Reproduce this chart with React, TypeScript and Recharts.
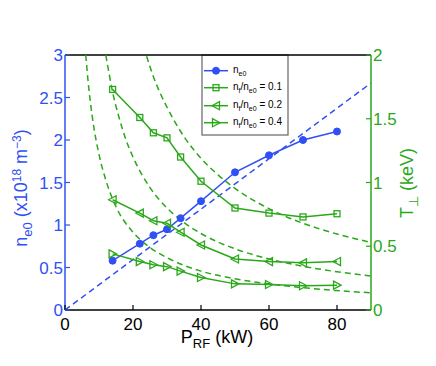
import React from "react";
import { ComposedChart, Line, XAxis, YAxis, ReferenceLine } from "recharts";

const BLUE = "#3050f5";
const GREEN = "#2aa81a";
const FONT = "'Liberation Sans', Arial, Helvetica, sans-serif";

// measured points
const pRF = [14, 22, 26, 30, 34, 40, 50, 60, 70, 80];
const ne0 = [0.58, 0.78, 0.88, 0.95, 1.08, 1.28, 1.62, 1.82, 2.0, 2.1];
const tPerp01 = [1.73, 1.51, 1.39, 1.35, 1.2, 1.01, 0.8, 0.76, 0.73, 0.755];
const tPerp02 = [0.865, 0.76, 0.7, 0.68, 0.61, 0.51, 0.4, 0.38, 0.37, 0.38];
const tPerp04 = [0.44, 0.38, 0.355, 0.34, 0.305, 0.255, 0.205, 0.2, 0.19, 0.195];

// dashed model curves
const neFitP = [0, 90];
const neFitV = [0, 2.67];
const fitAP = [6.1, 7, 8, 10, 12, 15, 20, 25, 30, 40, 50, 60, 70, 80, 90];
const fitAT = [2.0, 1.74, 1.52, 1.22, 1.02, 0.81, 0.61, 0.49, 0.41, 0.305, 0.245, 0.205, 0.175, 0.152, 0.135];
const fitBP = [12, 13, 14, 16, 18, 20, 25, 30, 35, 40, 50, 60, 70, 80, 90];
const fitBT = [2.0, 1.85, 1.71, 1.5, 1.33, 1.2, 0.96, 0.8, 0.686, 0.6, 0.48, 0.4, 0.343, 0.3, 0.267];
const fitCP = [24, 26, 28, 30, 35, 40, 45, 50, 60, 70, 80, 90];
const fitCT = [1.99, 1.83, 1.7, 1.59, 1.36, 1.19, 1.06, 0.954, 0.795, 0.68, 0.596, 0.53];

const xTicks = [0, 20, 40, 60, 80];
const leftTicks = [0, 0.5, 1, 1.5, 2, 2.5, 3];
const rightTicks = [0, 0.5, 1, 1.5, 2];

const zip = (xs: number[], ys: number[]) => xs.map((x, i) => ({ x, y: ys[i] }));

const dNe = zip(pRF, ne0);
const d01 = zip(pRF, tPerp01);
const d02 = zip(pRF, tPerp02);
const d04 = zip(pRF, tPerp04);
const dNeFit = zip(neFitP, neFitV);
const dA = zip(fitAP, fitAT);
const dB = zip(fitBP, fitBT);
const dC = zip(fitCP, fitCT);

const Circle = ({ cx, cy }: any) => <circle cx={cx} cy={cy} r={3.5} fill={BLUE} stroke={BLUE} />;
const Square = ({ cx, cy }: any) => (
  <rect x={cx - 3} y={cy - 3} width={6} height={6} fill="none" stroke={GREEN} strokeWidth={1.3} />
);
const TriLeft = ({ cx, cy }: any) => (
  <path d={`M${cx - 4},${cy} L${cx + 3.5},${cy - 4} L${cx + 3.5},${cy + 4} Z`} fill="none" stroke={GREEN} strokeWidth={1.3} />
);
const TriRight = ({ cx, cy }: any) => (
  <path d={`M${cx + 4},${cy} L${cx - 3.5},${cy - 4} L${cx - 3.5},${cy + 4} Z`} fill="none" stroke={GREEN} strokeWidth={1.3} />
);

const LeftTick = ({ x, y, payload }: any) => (
  <g>
    <line x1={x} y1={y} x2={x + 5} y2={y} stroke={BLUE} strokeWidth={1.2} />
    <text x={x - 2} y={y + 6} textAnchor="end" fill={BLUE} fontSize={17} fontFamily={FONT}>
      {String(payload.value)}
    </text>
  </g>
);
const RightTick = ({ x, y, payload }: any) => (
  <g>
    <line x1={x} y1={y} x2={x - 5} y2={y} stroke={GREEN} strokeWidth={1.2} />
    <text x={x + 2} y={y + 6} textAnchor="start" fill={GREEN} fontSize={17} fontFamily={FONT}>
      {String(payload.value)}
    </text>
  </g>
);
const BottomTick = ({ x, y, payload }: any) => (
  <g>
    <line x1={x} y1={y} x2={x} y2={y - 5} stroke="#000" strokeWidth={1.2} />
    <text x={x} y={y + 20} textAnchor="middle" fill="#000" fontSize={17} fontFamily={FONT}>
      {String(payload.value)}
    </text>
  </g>
);

const XLabel = () => (
  <text x={209} y={335} textAnchor="middle" fill="#000" fontSize={18} fontFamily={FONT}>
    P<tspan dy={5} fontSize={13}>RF</tspan>
    <tspan dy={-5}> (kW)</tspan>
  </text>
);
const LeftLabel = () => (
  <text x={19} y={180} transform="rotate(-90 19 180)" textAnchor="middle" fill={BLUE} fontSize={18} fontFamily={FONT}>
    n<tspan dy={5} fontSize={13}>e0</tspan>
    <tspan dy={-5}> (x10</tspan>
    <tspan dy={-6} fontSize={12}>18</tspan>
    <tspan dy={6}> m</tspan>
    <tspan dy={-6} fontSize={12}>−3</tspan>
    <tspan dy={6}>)</tspan>
  </text>
);
const RightLabel = () => (
  <text x={405} y={175} transform="rotate(-90 405 175)" textAnchor="middle" fill={GREEN} fontSize={18} fontFamily={FONT}>
    T<tspan dy={5} fontSize={13}>⊥</tspan>
    <tspan dy={-5}> (keV)</tspan>
  </text>
);

const LegendBox = () => {
  const rows = [62.7, 79.7, 97.7, 114.7];
  const lx1 = 196;
  const lx2 = 220;
  const mx = 208;
  const tx = 225;
  const fs = 10;
  const sub = 7;
  return (
    <g fontFamily={FONT}>
      <rect x={194} y={47} width={86} height={80} fill="#fff" stroke="#707070" strokeWidth={1.3} />
      <line x1={lx1} y1={rows[0]} x2={lx2} y2={rows[0]} stroke={BLUE} strokeWidth={1.5} />
      <Circle cx={mx} cy={rows[0]} />
      <text x={tx} y={rows[0] + 2} fontSize={fs} fill="#000">
        n<tspan dy={3} fontSize={sub}>e0</tspan>
      </text>
      {[
        { y: rows[1], M: Square, v: "0.1" },
        { y: rows[2], M: TriLeft, v: "0.2" },
        { y: rows[3], M: TriRight, v: "0.4" },
      ].map(({ y, M, v }) => (
        <g key={v}>
          <line x1={lx1} y1={y} x2={lx2} y2={y} stroke={GREEN} strokeWidth={1.5} />
          <M cx={mx} cy={y} />
          <text x={tx} y={y + 2} fontSize={fs} fill="#000">
            n<tspan dy={3} fontSize={sub}>f</tspan>
            <tspan dy={-3}>/n</tspan>
            <tspan dy={3} fontSize={sub}>e0</tspan>
            <tspan dy={-3}>{` = ${v}`}</tspan>
          </text>
        </g>
      ))}
    </g>
  );
};

export default function App() {
  return (
    <ComposedChart width={428} height={358} margin={{ top: 47, right: 0, bottom: 0, left: 0 }}>
      <XAxis
        type="number"
        dataKey="x"
        xAxisId="x"
        domain={[0, 90]}
        ticks={xTicks}
        allowDataOverflow
        height={56}
        tickSize={0}
        tickMargin={0}
        tickLine={false}
        axisLine={{ stroke: "#000", strokeWidth: 1.5 }}
        tick={<BottomTick />}
        label={{ content: () => <XLabel /> }}
      />
      <YAxis
        yAxisId="left"
        orientation="left"
        type="number"
        domain={[0, 3]}
        ticks={leftTicks}
        allowDataOverflow
        width={57}
        tickSize={0}
        tickMargin={0}
        tickLine={false}
        axisLine={{ stroke: BLUE, strokeWidth: 1.5 }}
        tick={<LeftTick />}
        label={{ content: () => <LeftLabel /> }}
      />
      <YAxis
        yAxisId="right"
        orientation="right"
        type="number"
        domain={[0, 2]}
        ticks={rightTicks}
        allowDataOverflow
        width={65}
        tickSize={0}
        tickMargin={0}
        tickLine={false}
        axisLine={{ stroke: GREEN, strokeWidth: 1.5 }}
        tick={<RightTick />}
        label={{ content: () => <RightLabel /> }}
      />
      <ReferenceLine xAxisId="x" yAxisId="left" y={3} stroke="#000" strokeWidth={1.5} />

      <Line data={dNeFit} xAxisId="x" yAxisId="left" dataKey="y" type="linear" stroke={BLUE} strokeWidth={1.5} strokeDasharray="6 4" dot={false} isAnimationActive={false} />
      <Line data={dA} xAxisId="x" yAxisId="right" dataKey="y" type="monotone" stroke={GREEN} strokeWidth={1.5} strokeDasharray="6 4" dot={false} isAnimationActive={false} />
      <Line data={dB} xAxisId="x" yAxisId="right" dataKey="y" type="monotone" stroke={GREEN} strokeWidth={1.5} strokeDasharray="6 4" dot={false} isAnimationActive={false} />
      <Line data={dC} xAxisId="x" yAxisId="right" dataKey="y" type="monotone" stroke={GREEN} strokeWidth={1.5} strokeDasharray="6 4" dot={false} isAnimationActive={false} />

      <Line data={dNe} xAxisId="x" yAxisId="left" dataKey="y" type="linear" stroke={BLUE} strokeWidth={1.5} dot={(p: any) => <Circle key={p.index} cx={p.cx} cy={p.cy} />} isAnimationActive={false} />
      <Line data={d01} xAxisId="x" yAxisId="right" dataKey="y" type="linear" stroke={GREEN} strokeWidth={1.5} dot={(p: any) => <Square key={p.index} cx={p.cx} cy={p.cy} />} isAnimationActive={false} />
      <Line data={d02} xAxisId="x" yAxisId="right" dataKey="y" type="linear" stroke={GREEN} strokeWidth={1.5} dot={(p: any) => <TriLeft key={p.index} cx={p.cx} cy={p.cy} />} isAnimationActive={false} />
      <Line data={d04} xAxisId="x" yAxisId="right" dataKey="y" type="linear" stroke={GREEN} strokeWidth={1.5} dot={(p: any) => <TriRight key={p.index} cx={p.cx} cy={p.cy} />} isAnimationActive={false} />

      <LegendBox />
    </ComposedChart>
  );
}
